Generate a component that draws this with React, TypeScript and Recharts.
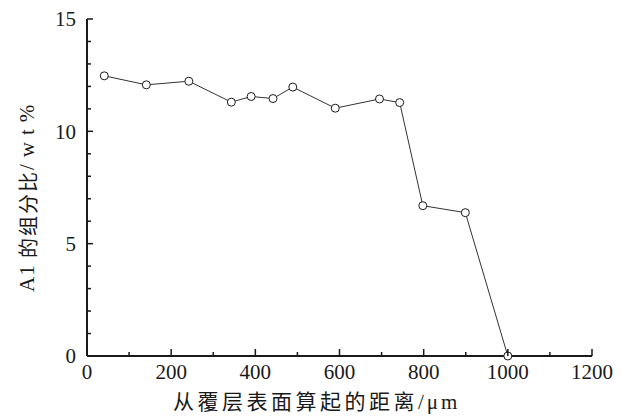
import React from "react";
import { LineChart, Line, XAxis, YAxis } from "recharts";

const distance = [41, 141, 242, 343, 390, 442, 489, 590, 695, 743, 798, 899, 1000];
const alContent = [12.47, 12.07, 12.23, 11.3, 11.55, 11.46, 11.97, 11.03, 11.44, 11.28, 6.69, 6.38, 0];
const xTicks = [0, 100, 200, 300, 400, 500, 600, 700, 800, 900, 1000, 1100, 1200];
const yTicks = [0, 1, 2, 3, 4, 5, 6, 7, 8, 9, 10, 11, 12, 13, 14, 15];
const xLabelCjk = "从覆层表面算起的距离";
const xLabelUnit = "/μm";
const yLabelA = "A1 ";
const yLabelCjk = "的组分比";
const yLabelUnit = "/wt%";

const data = distance.map((d, i) => ({ d, v: alContent[i] }));

const SERIF = "'Liberation Serif', serif";
const CJK = "'Noto Sans CJK SC', sans-serif";
const INK = "#1a1a1a";

const renderXTick = (props: any) => {
  const { x, y, payload, index } = props;
  const major = payload.value % 200 === 0;
  return (
    <g key={`xt-${index}`}>
      <line x1={x} x2={x} y1={y} y2={y - (major ? 7 : 4)} stroke={INK} strokeWidth={1.5} />
      {major && (
        <text x={x} y={y + 23} textAnchor="middle" fontFamily={SERIF} fontSize={21} fill={INK}>
          {payload.value}
        </text>
      )}
    </g>
  );
};

const renderYTick = (props: any) => {
  const { x, y, payload, index } = props;
  const major = payload.value % 5 === 0;
  return (
    <g key={`yt-${index}`}>
      <line x1={x} x2={x + (major ? 6 : 4)} y1={y} y2={y} stroke={INK} strokeWidth={1.5} />
      {major && (
        <text x={x - 11} y={y} dy="0.35em" textAnchor="end" fontFamily={SERIF} fontSize={21} fill={INK}>
          {payload.value}
        </text>
      )}
    </g>
  );
};

const Dot = (props: any) => {
  const { cx, cy, index } = props;
  return <circle key={index} cx={cx} cy={cy} r={4} fill="#fff" stroke={INK} strokeWidth={1} />;
};

export default function App() {
  return (
    <div style={{ position: "absolute", left: 0, top: 0, width: 626, height: 417, background: "#fff" }}>
      <LineChart width={626} height={417} data={data} margin={{ top: 19, right: 34, bottom: 0, left: 0 }}>
        <XAxis
          dataKey="d"
          type="number"
          domain={[0, 1200]}
          ticks={xTicks}
          interval={0}
          tick={renderXTick}
          tickLine={false}
          tickSize={0}
          tickMargin={0}
          height={61}
          axisLine={{ stroke: INK, strokeWidth: 2 }}
          label={{
            content: () => (
              <text x={173} y={409} textAnchor="start" fill={INK}>
                <tspan fontFamily={CJK} fontSize={21} letterSpacing={3.5}>{xLabelCjk}</tspan>
                <tspan fontFamily={SERIF} fontSize={21} letterSpacing={3}>{xLabelUnit}</tspan>
              </text>
            ),
          }}
        />
        <XAxis
          xAxisId="top"
          orientation="top"
          dataKey="d"
          type="number"
          domain={[0, 1200]}
          tick={false}
          tickLine={false}
          height={0}
          axisLine={{ stroke: INK, strokeWidth: 2 }}
        />
        <YAxis
          type="number"
          domain={[0, 15]}
          ticks={yTicks}
          interval={0}
          tick={renderYTick}
          tickLine={false}
          tickSize={0}
          tickMargin={0}
          width={87}
          axisLine={{ stroke: INK, strokeWidth: 2 }}
          label={{
            content: () => (
              <text
                x={27}
                y={292}
                transform="rotate(-90 27 292)"
                textAnchor="start"
                dominantBaseline="central"
                fill={INK}
              >
                <tspan fontFamily={SERIF} fontSize={21} letterSpacing={1}>{yLabelA}</tspan>
                <tspan fontFamily={CJK} fontSize={20} letterSpacing={2}>{yLabelCjk}</tspan>
                <tspan fontFamily={SERIF} fontSize={21} letterSpacing={7}>{yLabelUnit}</tspan>
              </text>
            ),
          }}
        />
        <YAxis
          yAxisId="right"
          orientation="right"
          type="number"
          domain={[0, 15]}
          tick={false}
          tickLine={false}
          width={0}
          axisLine={{ stroke: INK, strokeWidth: 2 }}
        />
        <Line
          dataKey="v"
          stroke="#333"
          strokeWidth={1}
          dot={<Dot />}
          activeDot={false}
          isAnimationActive={false}
          type="linear"
        />
      </LineChart>
    </div>
  );
}
